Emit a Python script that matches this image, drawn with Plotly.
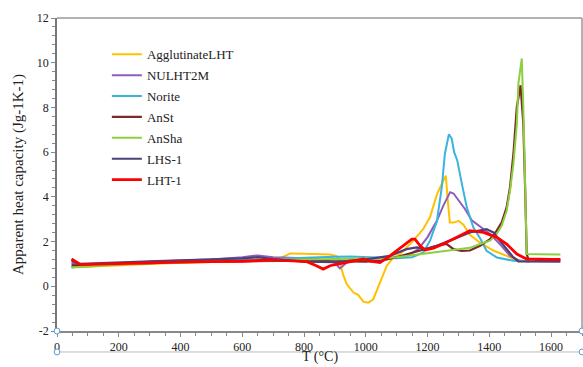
import plotly.graph_objects as go

# ---------------- data ----------------
agg_T = [47,70,100,200,300,400,500,600,700,730,755,800,850,884,905,916,927,938,960,975,992,1008,1024,1046,1068,1089,1111,1154,1186,1208,1230,1250,1259,1265,1272,1285,1300,1316,1337,1370,1413,1456,1478,1500,1530]
agg_v = [0.88,0.85,0.87,0.95,1.0,1.05,1.08,1.12,1.15,1.3,1.47,1.46,1.43,1.42,1.35,1.07,0.5,0.10,-0.28,-0.38,-0.69,-0.73,-0.58,0.2,0.92,1.29,1.44,2.04,2.56,3.1,4.1,4.7,4.95,3.9,2.85,2.85,2.93,2.75,2.3,1.95,1.6,1.36,1.22,1.15,1.12]

nul_T = [47,70,100,200,300,400,500,600,650,700,750,800,850,880,900,916,933,950,1000,1050,1100,1143,1170,1200,1230,1251,1273,1284,1300,1321,1343,1370,1402,1434,1467,1499,1530]
nul_v = [1.05,0.95,0.98,1.05,1.1,1.15,1.2,1.3,1.38,1.3,1.28,1.25,1.2,1.1,1.05,0.8,0.98,1.2,1.22,1.25,1.3,1.44,1.66,2.2,2.93,3.61,4.21,4.15,3.83,3.46,2.95,2.68,2.34,1.89,1.36,1.14,1.12]

nor_T = [47,70,100,200,300,400,500,600,700,750,800,850,900,950,1000,1050,1100,1150,1186,1208,1230,1246,1256,1269,1278,1286,1296,1311,1327,1348,1370,1391,1424,1478,1530]
nor_v = [0.84,0.9,0.95,1.0,1.05,1.1,1.12,1.18,1.22,1.25,1.3,1.3,1.32,1.33,1.3,1.25,1.25,1.3,1.51,2.04,2.9,4.43,5.93,6.8,6.6,6.0,5.63,4.58,3.53,2.64,2.15,1.59,1.29,1.14,1.12]

anst_T = [47,70,100,200,300,400,500,600,700,800,900,1000,1050,1100,1150,1200,1240,1262,1284,1310,1337,1370,1402,1424,1440,1456,1467,1478,1489,1501,1510,1516,1521,1526,1560,1600,1630]
anst_v = [0.95,0.92,0.95,1.0,1.05,1.08,1.1,1.12,1.15,1.15,1.12,1.1,1.15,1.3,1.5,1.7,1.85,1.89,1.66,1.58,1.6,1.81,2.11,2.49,2.86,3.53,4.43,5.93,8.02,8.99,7.27,4.28,1.44,1.22,1.18,1.17,1.17]

ansha_T = [47,70,100,200,300,400,500,600,700,800,900,1000,1050,1100,1176,1250,1300,1337,1370,1402,1424,1440,1456,1467,1478,1489,1494,1505,1510,1516,1521,1560,1600,1630]
ansha_v = [0.84,0.86,0.9,0.97,1.03,1.07,1.1,1.13,1.16,1.2,1.22,1.22,1.25,1.3,1.44,1.55,1.65,1.72,1.89,2.04,2.34,2.71,3.38,4.28,5.48,7.27,9.07,10.19,8.0,4.3,1.44,1.43,1.42,1.42]

lhs_T = [47,70,100,200,300,400,500,600,650,700,800,900,1000,1078,1132,1165,1197,1230,1284,1337,1391,1413,1434,1456,1478,1494,1530,1600,1630]
lhs_v = [1.15,1.0,1.02,1.08,1.12,1.16,1.2,1.25,1.3,1.22,1.1,1.08,1.2,1.36,1.66,1.74,1.66,1.81,2.11,2.41,2.56,2.41,2.04,1.66,1.29,1.11,1.1,1.1,1.1]

lht_T = [47,60,74,100,200,300,400,500,600,700,750,809,840,862,884,916,960,992,1014,1046,1078,1105,1122,1149,1159,1176,1192,1219,1251,1294,1337,1381,1424,1456,1489,1521,1560,1600,1630]
lht_v = [1.22,1.1,0.99,0.98,1.02,1.05,1.08,1.1,1.12,1.18,1.15,1.1,0.92,0.77,0.92,1.0,1.12,1.22,1.12,1.06,1.36,1.66,1.81,2.11,2.11,1.81,1.62,1.71,1.89,2.19,2.49,2.41,2.19,1.89,1.44,1.22,1.2,1.2,1.2]

series_names = ["AgglutinateLHT", "NULHT2M", "Norite", "AnSt", "AnSha", "LHS-1", "LHT-1"]
series_T = [agg_T, nul_T, nor_T, anst_T, ansha_T, lhs_T, lht_T]
series_v = [agg_v, nul_v, nor_v, anst_v, ansha_v, lhs_v, lht_v]
series_colors = ["#FFC000", "#8E5DB8", "#38B4DE", "#7A2A2A", "#8CCF3F", "#4E4079", "#FF0000"]
series_widths = [2, 2, 2, 2.2, 2, 2.2, 2.8]

x_ticks = [0, 200, 400, 600, 800, 1000, 1200, 1400, 1600]
y_ticks = [-2, 0, 2, 4, 6, 8, 10, 12]

FONT = "'Liberation Serif', 'Times New Roman', serif"

fig = go.Figure()
for name, T, v, c, w in zip(series_names, series_T, series_v, series_colors, series_widths):
    fig.add_trace(go.Scatter(x=T, y=v, mode="lines", name=name, legendgroup=name,
                             line=dict(color=c, width=w)))

fig.update_layout(
    width=583, height=367,
    margin=dict(l=57, r=1, t=18, b=36),
    paper_bgcolor="white", plot_bgcolor="white",
    font=dict(family=FONT, size=12, color="#222"),
    showlegend=True,
    legend=dict(x=0.095, y=0.932, xanchor="left", yanchor="top",
                bgcolor="rgba(0,0,0,0)", font=dict(family=FONT, size=13, color="#222"),
                itemwidth=30, tracegroupgap=1),
)
fig.update_xaxes(range=[0, 1700], tickvals=x_ticks, ticktext=[str(t) for t in x_ticks],
                 automargin=False,
                 showgrid=False, zeroline=False, showline=True, linecolor="#888", linewidth=1.5,
                 ticks="outside", ticklen=4, tickcolor="#888", ticklabelstandoff=0,
                 minor=dict(dtick=50, ticks="outside", ticklen=3, tickcolor="#888"),
                 tickfont=dict(family=FONT, size=12, color="#222"))
fig.update_yaxes(range=[-2, 12], tickvals=y_ticks, ticktext=[str(t) for t in y_ticks],
                 automargin=False,
                 showgrid=False, zeroline=False, showline=True, linecolor="#777", linewidth=1.5,
                 ticks="outside", ticklen=4, tickcolor="#888",
                 minor=dict(dtick=0.4, ticks="outside", ticklen=3, tickcolor="#888"),
                 title=dict(text="Apparent heat capacity (Jg-1K-1)", font=dict(family=FONT, size=15, color="#222"), standoff=10),
                 tickfont=dict(family=FONT, size=12, color="#222"))

# x-axis title placed just below the tick labels, at the bottom edge
fig.add_annotation(text="T (°C)", xref="paper", yref="paper", x=0.5, y=-0.116,
                   xanchor="center", yanchor="bottom", showarrow=False,
                   font=dict(family=FONT, size=14, color="#222"))

# plot-area frame (top/right in light grey)
fig.add_shape(type="line", xref="paper", yref="paper", x0=0, x1=1, y0=1, y1=1, line=dict(color="#999", width=1.5))
fig.add_shape(type="line", xref="paper", yref="paper", x0=1, x1=1, y0=0, y1=1, line=dict(color="#999", width=1.5))

# selection-box decoration under the x axis (as in the reference screenshot)
sel_y = -0.067
fig.add_shape(type="line", xref="paper", yref="paper", x0=0, x1=1, y0=sel_y, y1=sel_y,
              line=dict(color="#bbb", width=1))
for px in (0, 1):
    for py in (0, sel_y):
        fig.add_shape(type="circle", xref="paper", yref="paper",
                      x0=px - 0.0055, x1=px + 0.0055, y0=py - 0.0095, y1=py + 0.0095,
                      line=dict(color="#5B9BD5", width=1), fillcolor="white")

fig.write_html("out.html", config={"displayModeBar": False},
               post_script="document.body.style.margin='0';document.body.style.padding='0';")
